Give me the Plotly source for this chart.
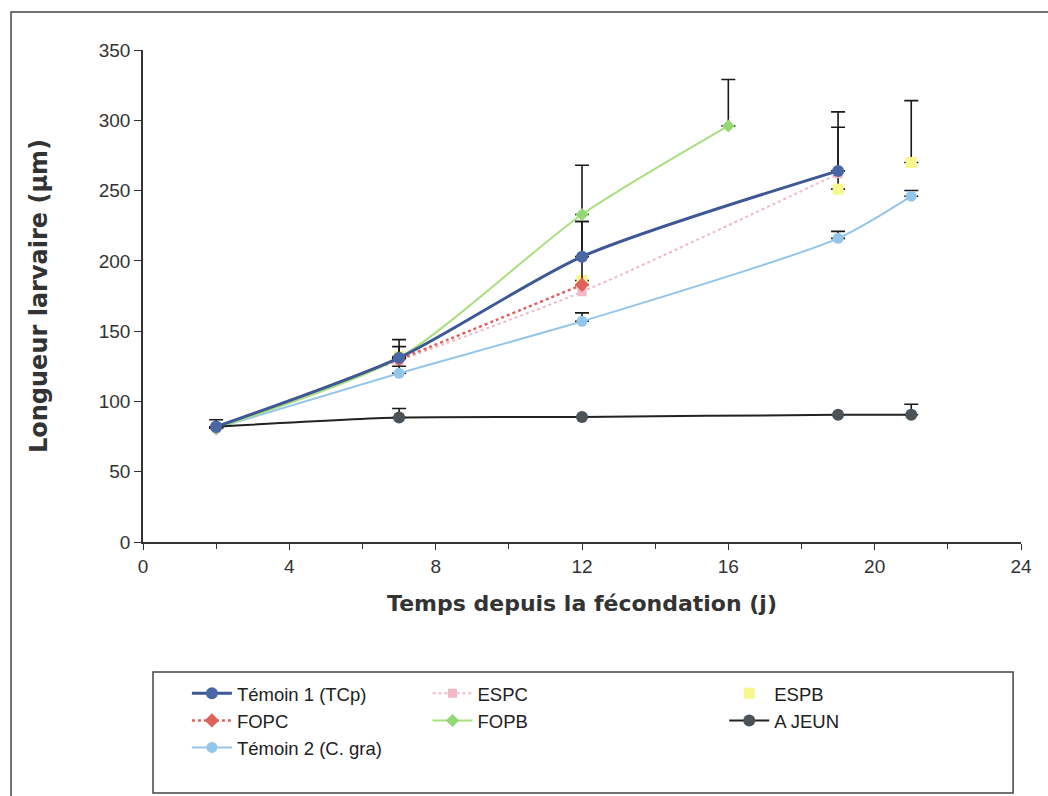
import plotly.graph_objects as go

# ---- data ----
days_t1 = [2, 7, 12, 19]
t1 = [82, 131, 203, 264]
t1_err = [5, 13, 25, 42]

days_espc = [2, 7, 12, 19]
espc = [81, 129, 178, 262]

days_espb = [7, 12, 19, 21]
espb = [132, 186, 251, 270]
espb_err = [0, 0, 44, 44]

days_fopc = [2, 7, 12]
fopc = [81, 130, 183]
fopc_err = [0, 0, 45]

days_fopb = [2, 7, 12, 16]
fopb = [81, 131, 233, 296]
fopb_err = [0, 8, 35, 33]

days_aj = [2, 7, 12, 19, 21]
ajeun = [82, 88.5, 89, 90.5, 90.5]
ajeun_err = [0, 6.5, 0, 0, 7.5]

days_t2 = [2, 7, 12, 19, 21]
t2 = [81, 120, 157, 216, 246]
t2_err = [0, 5, 6, 5, 4]

x_ticks = [0, 4, 8, 12, 16, 20, 24]
y_ticks = [0, 50, 100, 150, 200, 250, 300, 350]

FONT = "Liberation Sans, Arial, sans-serif"
TITLE_FONT = "DejaVu Sans, sans-serif"
SMOOTH = 0.7


def err(a):
    return dict(type="data", array=a, arrayminus=[0] * len(a), symmetric=False,
                color="#1a1a1a", thickness=1.6, width=7)


fig = go.Figure()

fig.add_trace(go.Scatter(x=days_espb, y=espb, mode="markers", name="ESPB",
                         marker=dict(symbol="square", size=11, color="#F6F78E"),
                         error_y=err(espb_err), legend="legend3", legendrank=1))
fig.add_trace(go.Scatter(x=days_espc, y=espc, mode="lines+markers", name="ESPC",
                         line=dict(color="#F2B8C6", width=2, dash="dot", shape="spline",
                                   smoothing=SMOOTH),
                         marker=dict(symbol="square", size=9, color="#F2B8C6"),
                         legend="legend2", legendrank=1))
fig.add_trace(go.Scatter(x=days_fopc, y=fopc, mode="lines+markers", name="FOPC",
                         line=dict(color="#E0625C", width=2.5, dash="dot", shape="spline",
                                   smoothing=SMOOTH),
                         marker=dict(symbol="diamond", size=11, color="#E0625C"),
                         error_y=err(fopc_err), legend="legend", legendrank=2))
fig.add_trace(go.Scatter(x=days_t2, y=t2, mode="lines+markers", name="Témoin 2 (C. gra)",
                         line=dict(color="#94C6EC", width=2, shape="spline", smoothing=SMOOTH),
                         marker=dict(symbol="circle", size=11, color="#94C6EC"),
                         error_y=err(t2_err), legend="legend", legendrank=3))
fig.add_trace(go.Scatter(x=days_fopb, y=fopb, mode="lines+markers", name="FOPB",
                         line=dict(color="#A9E07E", width=2, shape="spline", smoothing=SMOOTH),
                         marker=dict(symbol="diamond", size=10, color="#93D872"),
                         error_y=err(fopb_err), legend="legend2", legendrank=2))
fig.add_trace(go.Scatter(x=days_aj, y=ajeun, mode="lines+markers", name="A JEUN",
                         line=dict(color="#222222", width=2, shape="spline", smoothing=SMOOTH),
                         marker=dict(symbol="circle", size=12, color="#4B5357"),
                         error_y=err(ajeun_err), legend="legend3", legendrank=2))
fig.add_trace(go.Scatter(x=days_t1, y=t1, mode="lines+markers", name="Témoin 1 (TCp)",
                         line=dict(color="#3E5896", width=3, shape="spline", smoothing=SMOOTH),
                         marker=dict(symbol="circle", size=12, color="#4A67A5"),
                         error_y=err(t1_err), legend="legend", legendrank=1))

leg_common = dict(font=dict(family=FONT, size=18.5, color="#222"), bgcolor="rgba(0,0,0,0)",
                  yanchor="top", xanchor="left", y=-0.270, tracegroupgap=0,
                  traceorder="normal", itemwidth=40)

fig.update_layout(
    width=1048, height=796,
    paper_bgcolor="white", plot_bgcolor="white",
    margin=dict(l=143, r=27, t=50, b=254),
    font=dict(family=FONT, size=19, color="#333"),
    showlegend=True,
    legend=dict(x=0.05, **leg_common),
    legend2=dict(x=0.324, **leg_common),
    legend3=dict(x=0.662, **leg_common),
    xaxis=dict(range=[0, 24], tickvals=x_ticks, ticks="outside", ticklen=6,
               tickcolor="#333", showline=True, linecolor="#333", linewidth=1.5,
               showgrid=False, zeroline=False,
               minor=dict(dtick=2, ticks="outside", ticklen=5, tickcolor="#333"),
               tickfont=dict(size=19, color="#333"),
               title=dict(text="<b>Temps depuis la fécondation (j)</b>",
                          font=dict(family=TITLE_FONT, size=22, color="#333"), standoff=20)),
    yaxis=dict(range=[0, 350], tickvals=y_ticks, ticks="outside", ticklen=7,
               tickcolor="#333", showline=True, linecolor="#333", linewidth=1.5,
               showgrid=False, zeroline=False,
               tickfont=dict(size=19, color="#333"),
               title=dict(text="<b>Longueur larvaire (µm)</b>",
                          font=dict(family=TITLE_FONT, size=24, color="#333"), standoff=44)),
    shapes=[
        dict(type="rect", xref="paper", yref="paper", x0=-0.1503, x1=1.06,
             y0=-0.54, y1=1.0772, line=dict(color="#444", width=1.5)),
        dict(type="rect", xref="paper", yref="paper", x0=0.0114, x1=0.991,
             y0=-0.510, y1=-0.2642, line=dict(color="#444", width=1.5)),
    ],
)

fig.write_html("out.html", config={"displayModeBar": False},
               post_script="document.body.style.margin='0';")
